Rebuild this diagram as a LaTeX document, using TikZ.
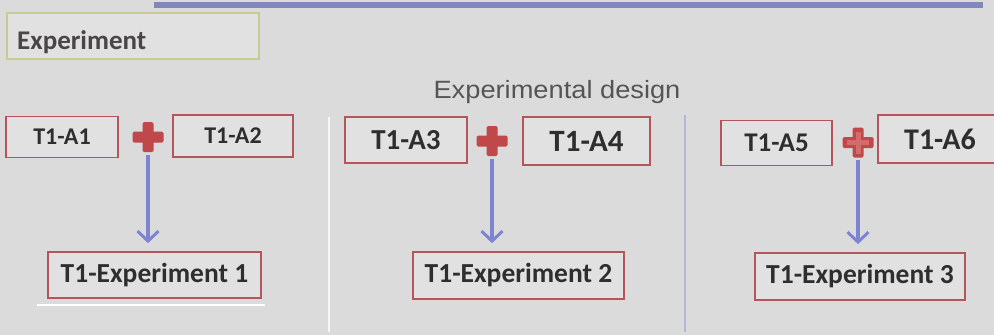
\documentclass[tikz,border=0pt]{standalone}
\usepackage{fontspec}
\usepackage{graphicx}
\setmainfont{Carlito}
\newfontfamily\arialfont{Liberation Sans}
\usetikzlibrary{arrows.meta}
\definecolor{bg}{HTML}{DBDBDB}
\definecolor{boxfill}{HTML}{E1E1E1}
\definecolor{boxred}{HTML}{B5545A}
\definecolor{txt}{HTML}{2E2E2E}
\definecolor{hdrtxtc}{HTML}{4A4648}
\definecolor{plusred}{HTML}{C0474A}
\definecolor{pluslight}{HTML}{D36A6C}
\definecolor{arrowblue}{HTML}{7E84D2}
\definecolor{barblue}{HTML}{8289BA}
\definecolor{olive}{HTML}{C6CB92}
\definecolor{seplav}{HTML}{B4B7D6}
\definecolor{designgray}{HTML}{555555}
\tikzset{
  redbox/.style={draw=boxred, fill=boxfill, line width=1.7pt, inner sep=0pt, text=txt},
  plusnode/.style={minimum width=31pt, minimum height=31pt, inner sep=0pt},
  flow/.style={draw=arrowblue, line width=3.2pt, -{Straight Barb[length=10pt,width=21pt,line width=3pt]}, shorten <=2pt, shorten >=8pt},
  sepline/.style={line width=1.5pt},
}
\newcommand{\crossat}[3]{%
  \fill[#2,rounded corners=1.5pt] ([shift={(-15.5,-5.5)}]#1) rectangle ([shift={(15.5,5.5)}]#1);
  \fill[#2,rounded corners=1.5pt] ([shift={(-5.5,-15)}]#1) rectangle ([shift={(5.5,15)}]#1);
  #3}
\begin{document}
\begin{tikzpicture}[x=1pt,y=-1pt]
\useasboundingbox[fill=bg] (0,0) rectangle (994,335);
% top bar
\fill[barblue] (154,2) rectangle (983,8);
% Experiment header box
\node[draw=olive, fill=boxfill, line width=1.4pt, minimum width=252pt, minimum height=46pt, inner sep=0pt] (hdr) at (133,36) {};
\node[anchor=base west, text=hdrtxtc, font=\fontsize{27}{30}\selectfont\bfseries, inner sep=0pt] (hdrtxt) at (17,49) {Experiment};
% title
\node[anchor=base, text=designgray, font=\arialfont\fontsize{25}{28}\selectfont, inner sep=0pt] (title) at (557,98) {\scalebox{1.09}[1]{Experimental design}};
% separators
\draw[sepline, draw=white!75!bg] (329,117) -- (329,332);
\draw[sepline, draw=seplav] (685,115) -- (685,332);
\draw[line width=2pt, white] (37,305) -- (265,305);
% group 1
\node[redbox, minimum width=112pt, minimum height=41pt, font=\fontsize{24}{26}\selectfont\bfseries] (a1) at (62,137) {T1-A1};
\node[redbox, minimum width=120pt, minimum height=42pt, font=\fontsize{24}{26}\selectfont\bfseries] (a2) at (233,136) {T1-A2};
\node[plusnode] (p1) at (148,137) {};
\crossat{p1.center}{plusred}{}
\node[redbox, minimum width=213pt, minimum height=46pt, font=\fontsize{27.5}{30}\selectfont\bfseries] (e1) at (154.5,275) {T1-Experiment 1};
\draw[flow] (p1.south) -- (p1.south |- e1.north);
% group 2
\node[redbox, minimum width=122pt, minimum height=46pt, font=\fontsize{29}{31}\selectfont\bfseries] (a3) at (406,140) {T1-A3};
\node[redbox, minimum width=127pt, minimum height=48pt, font=\fontsize{31}{33}\selectfont\bfseries] (a4) at (586.5,141) {T1-A4};
\node[plusnode] (p2) at (492,141) {};
\crossat{p2.center}{plusred}{}
\node[redbox, minimum width=211pt, minimum height=47pt, font=\fontsize{27.5}{30}\selectfont\bfseries] (e2) at (518.5,275.5) {T1-Experiment 2};
\draw[flow] (p2.south) -- (p2.south |- e2.north);
% group 3
\node[redbox, minimum width=111pt, minimum height=45pt, font=\fontsize{27}{29}\selectfont\bfseries] (a5) at (776.5,143) {T1-A5};
\node[redbox, minimum width=124pt, minimum height=48pt, font=\fontsize{30}{32}\selectfont\bfseries] (a6) at (940,139) {T1-A6};
\node[plusnode] (p3) at (858,142.5) {};
\crossat{p3.center}{plusred}{}
\fill[pluslight] ([shift={(-11,-2.5)}]p3.center) rectangle ([shift={(11,2.5)}]p3.center);
\fill[pluslight] ([shift={(-2.5,-11)}]p3.center) rectangle ([shift={(2.5,11)}]p3.center);
\node[redbox, minimum width=210pt, minimum height=47pt, font=\fontsize{27.5}{30}\selectfont\bfseries] (e3) at (860,276.5) {T1-Experiment 3};
\draw[flow] (p3.south) -- (p3.south |- e3.north);
\end{tikzpicture}
\end{document}
